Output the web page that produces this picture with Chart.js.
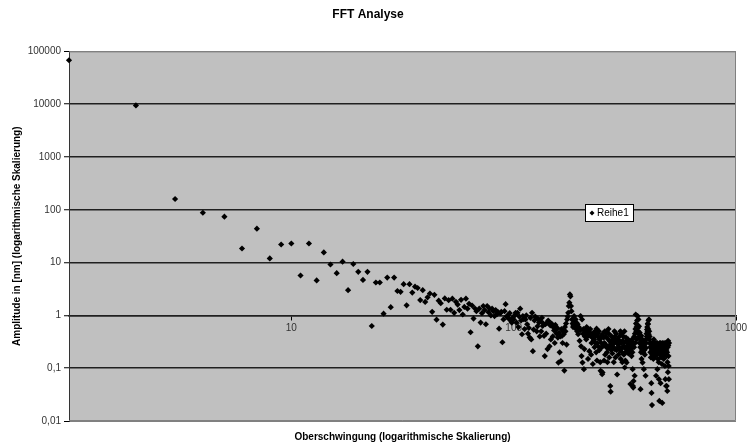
<!DOCTYPE html>
<html>
<head>
<meta charset="utf-8">
<title>FFT Analyse</title>
<script src="https://cdn.jsdelivr.net/npm/chart.js@4.4.1/dist/chart.umd.min.js"></script>
<style>
  html, body { margin: 0; padding: 0; background: #fff; }
  canvas { display: block; }
</style>
</head>
<body>
<canvas id="fftChart" width="747" height="448"></canvas>
<script>
// Amplitude je Oberschwingung (Harmonische 1, 2, 3, ...)
const amplitude = [
    68000, 9500, 160, 88, 74, 18.5, 44, 12, 22, 23,           // 1-10
    5.7, 23, 4.6, 15.6, 9.2, 6.3, 10.4, 3.0, 9.4, 6.7,        // 11-20
    4.7, 6.7, 0.63, 4.2, 4.2, 1.08, 5.2, 1.43, 5.2, 2.9,      // 21-30
    2.8, 3.9, 1.55, 3.9, 2.7, 3.5, 3.3, 1.95, 3.0, 1.8,       // 31-40
    2.2, 2.6, 1.17, 2.45, 0.83, 1.9, 1.7, 0.67, 2.1, 1.28,    // 41-50
    1.94, 1.28, 2.07, 1.12, 1.81, 1.6, 1.26, 1.97, 1.04, 1.45,
    2.07, 1.34, 1.66, 0.48, 1.54, 0.87, 1.35, 1.2, 0.26, 1.34,
    0.73, 1.1, 1.5, 1.26, 0.68, 1.5, 1.15, 1.34, 1.0, 1.34,
    1.2, 0.97, 1.26, 1.05, 1.15, 0.56, 1.1, 1.17, 0.31, 0.84,
    1.2, 1.63, 0.95, 1.0, 0.87, 1.1, 0.8, 0.73, 0.9, 0.84,    // 91-100
    1.0, 1.12, 0.73, 1.12, 0.6, 0.95, 1.34, 0.8, 0.44, 0.97,
    0.85, 0.55, 0.84, 1.0, 0.68, 0.45, 0.58, 0.38, 0.9, 0.35,
    1.12, 0.21, 0.54, 0.8, 0.95, 0.9, 0.5, 0.62, 0.85, 0.73,
    0.4, 0.78, 0.5, 0.9, 0.63, 0.7, 0.41, 0.17, 0.68, 0.45,
    0.72, 0.23, 0.8, 0.73, 0.26, 0.65, 0.35, 0.7, 0.63, 0.4,
    0.6, 0.52, 0.3, 0.66, 0.54, 0.45, 0.58, 0.38, 0.128, 0.47,
    0.2, 0.4, 0.137, 0.55, 0.41, 0.3, 0.5, 0.44, 0.09, 0.6,
    0.5, 0.7, 0.28, 0.84, 0.95, 1.12, 1.5, 1.74, 2.5, 2.3,    // 171-180
    1.5, 1.2, 0.84, 0.7, 0.6, 0.65, 0.97, 0.75, 0.62, 0.84,
    0.55, 0.72, 0.5, 0.68, 0.44, 0.6, 0.58, 0.33, 0.52, 0.97, // 191-200
    0.26, 0.17, 0.84, 0.128, 0.45, 0.55, 0.096, 0.23, 0.4, 0.5,
    0.45, 0.35, 0.6, 0.54, 0.4, 0.15, 0.5, 0.47, 0.21, 0.42,
    0.55, 0.41, 0.18, 0.3, 0.45, 0.38, 0.12, 0.44, 0.33, 0.35,
    0.25, 0.5, 0.3, 0.41, 0.2, 0.56, 0.14, 0.3, 0.45, 0.26,
    0.38, 0.5, 0.22, 0.35, 0.13, 0.089, 0.4, 0.3, 0.25, 0.077,
    0.083, 0.45, 0.27, 0.38, 0.14, 0.3, 0.5, 0.18, 0.28, 0.4,
    0.25, 0.48, 0.2, 0.13, 0.36, 0.24, 0.55, 0.45, 0.16, 0.33,
    0.27, 0.046, 0.036, 0.3, 0.22, 0.4, 0.26, 0.19, 0.31, 0.35,
    0.25, 0.13, 0.3, 0.5, 0.23, 0.4, 0.16, 0.33, 0.45, 0.22,
    0.3, 0.076, 0.24, 0.35, 0.28, 0.18, 0.3, 0.25, 0.4, 0.22, // 291-300
    0.32, 0.5, 0.15, 0.3, 0.24, 0.45, 0.2, 0.13, 0.33, 0.25,
    0.4, 0.3, 0.18, 0.26, 0.5, 0.103, 0.24, 0.14, 0.2, 0.38,
    0.33, 0.128, 0.25, 0.3, 0.21, 0.27, 0.35, 0.19, 0.24, 0.3,
    0.26, 0.2, 0.32, 0.23, 0.05, 0.28, 0.22, 0.3, 0.17, 0.25,
    0.35, 0.2, 0.096, 0.046, 0.043, 0.057, 0.3, 0.25, 0.4, 0.072,
    0.45, 0.3, 0.55, 1.04, 0.7, 0.5, 0.6, 0.35, 0.8, 0.66,
    0.97, 0.58, 0.5, 0.84, 0.45, 0.62, 0.4, 0.3, 0.47, 0.36,
    0.25, 0.04, 0.3, 0.2, 0.41, 0.15, 0.28, 0.22, 0.35, 0.128,
    0.3, 0.25, 0.2, 0.33, 0.096, 0.28, 0.22, 0.3, 0.18, 0.25,
    0.3, 0.072, 0.24, 0.35, 0.3, 0.45, 0.4, 0.54, 0.6, 0.5,   // 391-400
    0.7, 0.68, 0.55, 0.8, 0.44, 0.84, 0.5, 0.35, 0.4, 0.3,
    0.25, 0.2, 0.3, 0.16, 0.28, 0.052, 0.034, 0.22, 0.02, 0.3,
    0.18, 0.26, 0.2, 0.3, 0.15, 0.24, 0.35, 0.26, 0.19, 0.28,
    0.22, 0.3, 0.17, 0.25, 0.2, 0.23, 0.072, 0.3, 0.18, 0.26,
    0.21, 0.3, 0.096, 0.24, 0.15, 0.28, 0.2, 0.25, 0.13, 0.062,
    0.28, 0.024, 0.22, 0.3, 0.18, 0.26, 0.21, 0.052, 0.3, 0.16,
    0.25, 0.2, 0.28, 0.12, 0.26, 0.022, 0.22, 0.3, 0.17, 0.24,
    0.2, 0.28, 0.15, 0.25, 0.3, 0.19, 0.23, 0.27, 0.11, 0.23,
    0.062, 0.26, 0.2, 0.3, 0.046, 0.22, 0.17, 0.046, 0.28, 0.2,
    0.037, 0.13, 0.25, 0.084, 0.33, 0.27, 0.17, 0.11, 0.062, 0.3 // 491-500
];

// Achsenbeschriftungen
const yTicks = [0.01, 0.1, 1, 10, 100, 1000, 10000, 100000];
const yTickLabels = ['0,01', '0,1', '1', '10', '100', '1000', '10000', '100000'];
const xTicks = [10, 100, 1000];
const xTickLabels = ['10', '100', '1000'];

const FONT = "'Liberation Sans', Arial, sans-serif";
Chart.defaults.font.family = FONT;

// Hintergrund und Rahmen der Zeichenflaeche (Excel-Grau)
const plotArea = {
    id: 'plotArea',
    beforeDraw(chart) {
        const { ctx, chartArea: a } = chart;
        ctx.save();
        ctx.fillStyle = '#ffffff';
        ctx.fillRect(0, 0, chart.width, chart.height);
        ctx.fillStyle = '#c0c0c0';
        ctx.fillRect(a.left, a.top, a.right - a.left, a.bottom - a.top);
        ctx.restore();
    },
    beforeDatasetsDraw(chart) {
        const { ctx, chartArea: a } = chart;
        ctx.save();
        ctx.strokeStyle = '#808080';
        ctx.lineWidth = 1;
        ctx.beginPath();
        ctx.moveTo(a.left, a.top + 0.5);
        ctx.lineTo(a.right - 0.5, a.top + 0.5);
        ctx.lineTo(a.right - 0.5, a.bottom - 0.5);
        ctx.lineTo(a.left, a.bottom - 0.5);
        ctx.stroke();
        ctx.restore();
    }
};

// Legende als Kasten in der Zeichenflaeche
const legendBox = {
    id: 'legendBox',
    afterDraw(chart) {
        const { ctx, chartArea: a } = chart;
        const ds = chart.data.datasets[0];
        const x = Math.round(a.right - 151), y = Math.round(a.top + 153);
        const w = 48, h = 17;
        ctx.save();
        ctx.fillStyle = '#ffffff';
        ctx.fillRect(x, y, w, h);
        ctx.strokeStyle = '#000000';
        ctx.lineWidth = 1;
        ctx.strokeRect(x + 0.5, y + 0.5, w, h);
        ctx.fillStyle = '#000000';
        Chart.helpers.drawPoint(ctx, { pointStyle: 'rectRot', radius: 2.5, borderWidth: 0 }, x + 7, y + h / 2 + 0.5);
        ctx.font = '10px ' + FONT;
        ctx.textBaseline = 'middle';
        ctx.fillText(ds.label, x + 12, y + h / 2 + 1);
        ctx.restore();
    }
};

const ctx = document.getElementById('fftChart').getContext('2d');
new Chart(ctx, {
    type: 'scatter',
    data: {
        datasets: [{
            label: 'Reihe1',
            data: amplitude.map((a, i) => ({ x: i + 1, y: a })),
            pointStyle: 'rectRot',
            pointRadius: 3.1,
            pointHoverRadius: 3.1,
            backgroundColor: '#000000',
            borderColor: '#000000',
            borderWidth: 0,
            clip: false
        }]
    },
    options: {
        responsive: false,
        animation: false,
        layout: { padding: { left: 0, right: 11, top: 0, bottom: 0 } },
        plugins: {
            legend: { display: false },
            tooltip: { enabled: false },
            title: {
                display: true,
                text: 'FFT Analyse',
                color: '#000000',
                font: { size: 12, weight: 'bold' },
                padding: { top: 7, bottom: 30 }
            }
        },
        scales: {
            x: {
                type: 'logarithmic',
                min: 1,
                max: 1000,
                position: { y: 1 },
                afterBuildTicks: s => { s.ticks = xTicks.map(v => ({ value: v })); },
                afterFit: s => { s.paddingRight = 0; s.paddingLeft = 0; },
                ticks: {
                    autoSkip: false,
                    maxRotation: 0,
                    padding: 3,
                    color: '#333333',
                    font: { size: 10 },
                    callback: (v, i) => xTickLabels[i]
                },
                grid: { drawOnChartArea: false, tickLength: 4, tickColor: '#000000' },
                border: { color: '#202020', width: 1.5 }
            },
            xBottom: {
                type: 'logarithmic',
                axis: 'x',
                min: 1,
                max: 1000,
                position: 'bottom',
                afterFit: s => { s.height = 27; },
                ticks: { display: false },
                grid: { display: false },
                border: { display: false },
                title: {
                    display: true,
                    text: 'Oberschwingung (logarithmische Skalierung)',
                    color: '#000000',
                    font: { size: 10, weight: 'bold' },
                    padding: { top: 0, bottom: 5 }
                }
            },
            y: {
                type: 'logarithmic',
                min: 0.01,
                max: 100000,
                afterBuildTicks: s => { s.ticks = yTicks.map(v => ({ value: v })); },
                afterFit: s => { s.width = 69; },
                ticks: {
                    autoSkip: false,
                    padding: 3,
                    color: '#333333',
                    font: { size: 10 },
                    callback: (v, i) => yTickLabels[i]
                },
                grid: {
                    color: c => (c.tick && (c.tick.value === 0.01 || c.tick.value === 100000)) ? '#808080' : '#202020',
                    lineWidth: c => (c.tick && (c.tick.value === 0.01 || c.tick.value === 100000)) ? 1 : 1.5,
                    tickColor: '#000000',
                    tickLength: 5,
                    tickWidth: 1
                },
                border: { color: '#333333' },
                title: {
                    display: true,
                    text: 'Amplitude in [nm] (logarithmische Skalierung)',
                    color: '#000000',
                    font: { size: 10, weight: 'bold' },
                    padding: { top: 11, bottom: 0 }
                }
            }
        }
    },
    plugins: [plotArea, legendBox]
});
</script>
</body>
</html>
